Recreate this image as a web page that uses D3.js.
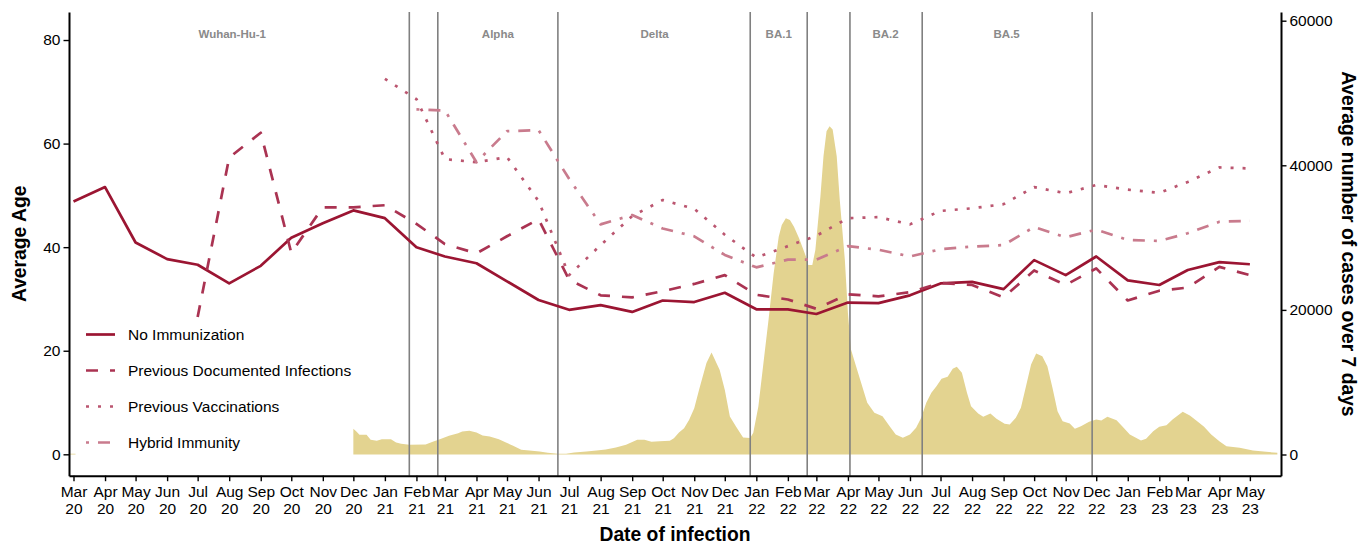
<!DOCTYPE html>
<html>
<head>
<meta charset="utf-8">
<script src="https://cdn.jsdelivr.net/npm/d3@7"></script>
<style>
  body { margin: 0; background: #fff; }
  svg { display: block; font-family: "Liberation Sans", Arial, sans-serif; }
</style>
</head>
<body>
<svg width="1358" height="545"></svg>
<script>
// monthly points (first of month)
const months = [
  "2020-03-01","2020-04-01","2020-05-01","2020-06-01","2020-07-01","2020-08-01","2020-09-01","2020-10-01","2020-11-01","2020-12-01",
  "2021-01-01","2021-02-01","2021-03-01","2021-04-01","2021-05-01","2021-06-01","2021-07-01","2021-08-01","2021-09-01","2021-10-01","2021-11-01","2021-12-01",
  "2022-01-01","2022-02-01","2022-03-01","2022-04-01","2022-05-01","2022-06-01","2022-07-01","2022-08-01","2022-09-01","2022-10-01","2022-11-01","2022-12-01",
  "2023-01-01","2023-02-01","2023-03-01","2023-04-01","2023-05-01"
];

const noImmunization = [
  48.8, 51.6, 40.9, 37.7, 36.6, 33.0, 36.4, 41.8, 44.6, 47.1,
  45.6, 40.0, 38.2, 36.9, 33.4, 29.8, 27.9, 28.8, 27.5, 29.7, 29.4, 31.2,
  28.0, 28.0, 27.1, 29.3, 29.2, 30.7, 33.0, 33.3, 31.9, 37.5, 34.6, 38.2,
  33.6, 32.7, 35.6, 37.1, 36.7
];

const prevInfections = [
  null, null, null, null, 26.5, 57.3, 62.1, 38.9, 47.7, 47.7,
  48.1, 44.5, 40.6, 38.8, 42.1, 45.4, 33.7, 30.7, 30.3, 31.5, 32.9, 34.6,
  30.8, 29.9, 28.1, 30.9, 30.5, 31.3, 33.1, 32.7, 30.3, 35.5, 32.7, 35.9,
  29.7, 31.6, 32.2, 36.2, 34.6
];

const prevVaccinations = [
  null, null, null, null, null, null, null, null, null, null,
  72.5, 68.6, 57.0, 56.4, 57.4, 48.9, 34.6, 40.4, 46.0, 49.1, 47.4, 42.4,
  38.0, 40.2, 42.2, 45.6, 45.8, 44.4, 47.0, 47.5, 48.3, 51.6, 50.4, 52.0,
  51.1, 50.5, 52.6, 55.4, 55.2
];

const hybridImmunity = [
  null, null, null, null, null, null, null, null, null, null,
  null, 66.6, 66.4, 56.4, 62.4, 62.6, 53.2, 44.4, 46.2, 43.6, 42.1, 38.5,
  36.1, 37.6, 37.6, 40.2, 39.5, 38.2, 39.6, 40.1, 40.4, 43.9, 41.9, 43.4,
  41.4, 41.2, 42.7, 44.9, 45.1
];

// 7-day average cases (right axis)
const caseSeries = [
  ["2020-02-26",100],["2020-03-03",100],["2020-03-04",null],
  ["2020-12-01",3550],["2020-12-04",3180],["2020-12-07",2720],["2020-12-14",2720],["2020-12-18",2030],["2020-12-24",1900],["2020-12-29",2120],
  ["2021-01-07",2120],["2021-01-12",1660],["2021-01-17",1480],["2021-01-25",1340],["2021-02-10",1380],["2021-02-17",1760],["2021-02-24",2120],
  ["2021-03-05",2580],["2021-03-14",2950],["2021-03-18",3180],["2021-03-25",3270],["2021-04-01",3040],["2021-04-07",2630],["2021-04-14",2490],
  ["2021-04-23",2120],["2021-04-30",1660],["2021-05-07",1200],["2021-05-15",650],["2021-05-23",550],["2021-06-02",415],["2021-06-10",235],
  ["2021-06-20",100],["2021-06-28",100],["2021-07-06",275],["2021-07-18",415],["2021-07-28",551],["2021-08-06",690],["2021-08-16",970],
  ["2021-08-26",1340],["2021-09-06",2030],["2021-09-13",2030],["2021-09-20",1760],["2021-09-28",1850],["2021-10-08",1900],["2021-10-12",2260],
  ["2021-10-17",3040],["2021-10-22",3640],["2021-10-27",4800],["2021-11-01",6400],["2021-11-06",9100],["2021-11-13",12640],["2021-11-18",14100],
  ["2021-11-26",11700],["2021-12-01",8950],["2021-12-06",5240],["2021-12-12",3870],["2021-12-19",2350],["2021-12-26",2270],["2021-12-29",3000],
  ["2022-01-03",6640],["2022-01-08",12640],["2022-01-13",18630],["2022-01-18",25030],["2022-01-23",30120],["2022-01-26",31740],["2022-01-30",32670],
  ["2022-02-03",32430],["2022-02-07",31500],["2022-02-12",29900],["2022-02-17",28050],["2022-02-20",26900],["2022-02-21",26200],["2022-02-25",26200],
  ["2022-02-28",28280],["2022-03-05",35720],["2022-03-08",41250],["2022-03-11",44710],["2022-03-14",45400],["2022-03-17",44950],["2022-03-21",41250],
  ["2022-03-24",35200],["2022-03-29",26900],["2022-04-01",19600],["2022-04-04",14520],["2022-04-09",12210],["2022-04-16",8990],["2022-04-20",7150],
  ["2022-04-27",5770],["2022-05-05",5300],["2022-05-12",3910],["2022-05-18",2770],["2022-05-25",2310],["2022-06-01",2770],["2022-06-07",3690],
  ["2022-06-12",5075],["2022-06-17",7150],["2022-06-22",8530],["2022-06-27",9450],["2022-07-02",10470],["2022-07-08",10750],["2022-07-13",11850],
  ["2022-07-17",12130],["2022-07-22",11300],["2022-07-27",8530],["2022-07-31",6680],["2022-08-07",5670],["2022-08-12",5210],["2022-08-19",5670],
  ["2022-08-25",4940],["2022-09-02",4250],["2022-09-07",4150],["2022-09-13",5075],["2022-09-18",6460],["2022-09-23",9450],["2022-09-28",12450],
  ["2022-10-03",13970],["2022-10-09",13600],["2022-10-14",12210],["2022-10-19",9220],["2022-10-24",5990],["2022-10-29",4600],["2022-11-05",4290],
  ["2022-11-10",3550],["2022-11-16",3910],["2022-11-24",4520],["2022-12-01",4840],["2022-12-06",4700],["2022-12-12",5210],["2022-12-21",4740],
  ["2022-12-27",3830],["2023-01-03",2770],["2023-01-09",2310],["2023-01-14",1940],["2023-01-19",2170],["2023-01-26",3220],["2023-02-01",3830],
  ["2023-02-08",4050],["2023-02-14",4840],["2023-02-24",5900],["2023-03-03",5390],["2023-03-09",4740],["2023-03-17",3830],["2023-03-24",2770],
  ["2023-04-01",1840],["2023-04-08",1150],["2023-04-21",925],["2023-05-04",550],["2023-05-17",370],["2023-05-28",235]
];

const variantBreaks = ["2021-01-25","2021-02-22","2021-06-20","2021-12-26","2022-02-20","2022-04-03","2022-06-13","2022-11-27"];
const variantLabels = [
  ["Wuhan-Hu-1","2020-08-04"],["Alpha","2021-04-22"],["Delta","2021-09-23"],
  ["BA.1","2022-01-23"],["BA.2","2022-05-08"],["BA.5","2022-09-04"]
];

const seriesNames = ["No Immunization","Previous Documented Infections","Previous Vaccinations","Hybrid Immunity"];
const seriesValues = [noImmunization, prevInfections, prevVaccinations, hybridImmunity];
const seriesColors = ["#9b1532","#aa3352","#bb5670","#c97b8d"];
const seriesDash = [null, "12,12", "3,9", "3,9,12,9"];

const leftTicks = [0, 20, 40, 60, 80];
const rightTicks = [0, 20000, 40000, 60000];

const svg = d3.select("svg");
const parse = d3.timeParse("%Y-%m-%d");

const margin = {left: 69, right: 1281, top: 12, bottom: 475.7};
const tickFont = 15.5;

const x = d3.scaleTime()
  .domain([new Date(2020, 1, 25, 14), new Date(2023, 4, 31, 14)])
  .range([margin.left, margin.right]);
const y = d3.scaleLinear().domain([-4.13, 85.41]).range([margin.bottom, margin.top]);
const y2 = d3.scaleLinear().domain([-2932, 61203]).range([margin.bottom, margin.top]);

// cases area
const cases = caseSeries.map(d => ({date: parse(d[0]), v: d[1]}));
svg.append("path")
  .datum(cases)
  .attr("fill", "#e3d390")
  .attr("d", d3.area()
    .defined(d => d.v != null)
    .x(d => x(d.date))
    .y0(y2(0))
    .y1(d => y2(d.v)));

// variant boundaries
svg.append("g")
  .selectAll("line")
  .data(variantBreaks)
  .join("line")
  .attr("x1", d => x(parse(d)))
  .attr("x2", d => x(parse(d)))
  .attr("y1", margin.top)
  .attr("y2", margin.bottom)
  .attr("stroke", "#808080")
  .attr("stroke-width", 1.6);

svg.append("g")
  .selectAll("text")
  .data(variantLabels)
  .join("text")
  .attr("x", d => x(parse(d[1])))
  .attr("y", 37.5)
  .attr("text-anchor", "middle")
  .attr("font-size", 11.5)
  .attr("font-weight", "bold")
  .attr("fill", "#8a8a8a")
  .text(d => d[0]);

// age lines
const monthDates = months.map(parse);
const line = d3.line()
  .defined(d => d.v != null)
  .x(d => x(d.date))
  .y(d => y(d.v));

seriesValues.forEach((vals, i) => {
  svg.append("path")
    .datum(vals.map((v, j) => ({date: monthDates[j], v: v})))
    .attr("fill", "none")
    .attr("stroke", seriesColors[i])
    .attr("stroke-width", 2.7)
    .attr("stroke-dasharray", seriesDash[i])
    .attr("stroke-linejoin", "round")
    .attr("d", line);
});

// axes
const xAxis = svg.append("g")
  .attr("transform", `translate(0,${margin.bottom})`)
  .call(d3.axisBottom(x)
    .tickValues(d3.timeMonth.range(new Date(2020, 2, 1), new Date(2023, 5, 1)))
    .tickSize(5.5).tickSizeOuter(0).tickPadding(4)
    .tickFormat(""));
xAxis.selectAll(".tick text")
  .attr("font-size", tickFont)
  .attr("fill", "#000")
  .attr("dy", null)
  .each(function (d) {
    const t = d3.select(this);
    t.append("tspan").attr("x", 0).attr("y", 21.5).text(d3.timeFormat("%b")(d));
    t.append("tspan").attr("x", 0).attr("y", 38.3).text(d3.timeFormat("%y")(d));
  });

const yAxis = svg.append("g")
  .attr("transform", `translate(${margin.left},0)`)
  .call(d3.axisLeft(y).tickValues(leftTicks).tickSize(5.5).tickSizeOuter(0).tickPadding(3));
yAxis.selectAll(".tick text").attr("font-size", tickFont).attr("fill", "#000");

const yAxis2 = svg.append("g")
  .attr("transform", `translate(${margin.right},0)`)
  .call(d3.axisRight(y2).tickValues(rightTicks).tickFormat(d3.format("d"))
    .tickSize(5.5).tickSizeOuter(0).tickPadding(3));
yAxis2.selectAll(".tick text").attr("font-size", tickFont).attr("fill", "#000");

svg.selectAll(".domain").attr("stroke", "#000").attr("stroke-width", 2);
svg.selectAll(".tick line").attr("stroke", "#000").attr("stroke-width", 1.4);
svg.selectAll(".tick text").attr("font-family", null);

// titles
svg.append("text")
  .attr("x", (margin.left + margin.right) / 2)
  .attr("y", 541)
  .attr("text-anchor", "middle")
  .attr("font-size", 19.3)
  .attr("font-weight", "bold")
  .text("Date of infection");

svg.append("text")
  .attr("transform", `translate(25.5,${(margin.top + margin.bottom) / 2}) rotate(-90)`)
  .attr("text-anchor", "middle")
  .attr("font-size", 19.3)
  .attr("font-weight", "bold")
  .text("Average Age");

svg.append("text")
  .attr("transform", `translate(1342,${(margin.top + margin.bottom) / 2}) rotate(90)`)
  .attr("text-anchor", "middle")
  .attr("font-size", 19.3)
  .attr("font-weight", "bold")
  .text("Average number of cases over 7 days");

// legend
const legend = svg.append("g")
  .selectAll("g")
  .data(seriesNames)
  .join("g")
  .attr("transform", (d, i) => `translate(86,${334.5 + i * 36})`);
legend.append("line")
  .attr("x1", 0).attr("x2", 29)
  .attr("stroke", (d, i) => seriesColors[i])
  .attr("stroke-width", 2.7)
  .attr("stroke-dasharray", (d, i) => seriesDash[i]);
legend.append("text")
  .attr("x", 42)
  .attr("dy", "0.35em")
  .attr("font-size", 15.5)
  .text(d => d);
</script>
</body>
</html>
